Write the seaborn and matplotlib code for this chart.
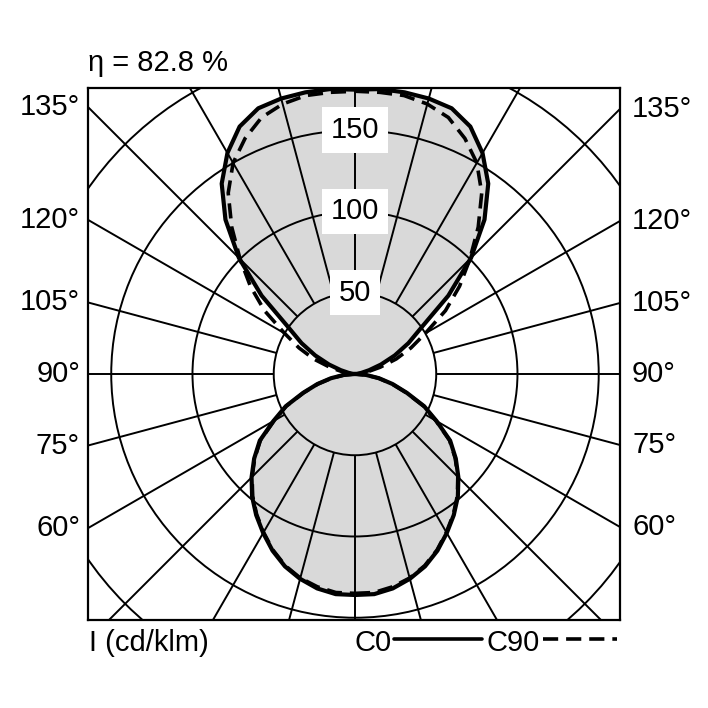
import numpy as np
import pandas as pd
import seaborn as sns
import matplotlib.pyplot as plt
from matplotlib.patches import Circle
from matplotlib.lines import Line2D
from matplotlib.transforms import blended_transform_factory

# =====================================================
# DATA (gamma measured from nadir, cd/klm)
# =====================================================
gamma = list(range(0, 181, 5))

c0 = [136, 136, 134, 130.5, 126, 120, 113, 106, 98.5, 90, 81, 71.5, 58, 47, 34, 24, 15, 7, 0,
      1.5, 4, 9, 17, 27, 38, 50, 75, 101, 124, 143, 157, 168, 174, 175.5, 176, 176, 175]
c90 = [135, 135, 133, 130, 125.5, 119.5, 112.5, 105.5, 98, 89.5, 80.5, 71, 57.5, 46.5, 33.5, 23.5, 14.5, 6.5, 0,
       3, 8, 16, 27, 38, 50, 68, 84, 100, 118, 136, 150, 160, 168, 172, 174, 174, 174]

rings = [50, 100, 150, 200]
ring_labels = ["50", "100", "150"]
angle_labels = [60, 75, 90, 105, 120, 135]
efficiency = "η = 82.8 %"
unit_label = "I (cd/klm)"
legend_names = ["C0", "C90"]

# =====================================================
# STYLE
# =====================================================
sns.set_theme(style="white")
FONT = ["Liberation Sans", "DejaVu Sans"]
plt.rcParams["font.family"] = FONT
plt.rcParams["text.color"] = "black"
FS = 21


def to_xy(values):
    g = np.radians(np.array(gamma, dtype=float))
    r = np.array(values, dtype=float)
    # right half (C0 / C90), then left half back down (C180 / C270)
    x = np.concatenate([r * np.sin(g), -(r * np.sin(g))[::-1]])
    y = np.concatenate([-r * np.cos(g), (-r * np.cos(g))[::-1]])
    return pd.DataFrame({"x": x, "y": y, "order": np.arange(len(x))})


df0 = to_xy(c0)
df90 = to_xy(c90)

fig = plt.figure(figsize=(7.08, 7.08), dpi=100)
ax = fig.add_axes([88 / 708, 88 / 708, 532 / 708, 532 / 708])
XL, XR, YB, YT = -164.3, 163.1, -151.4, 176.0
ax.set_xlim(XL, XR)
ax.set_ylim(YB, YT)

# light grey lobes (C0 outline)
ax.fill(df0["x"], df0["y"], color="#d9d9d9", lw=0, zorder=1)

# polar grid
for r in rings:
    ax.add_patch(Circle((0, 0), r, fill=False, ec="black", lw=1.4, zorder=2))
for a in range(0, 360, 15):
    t = np.radians(a)
    ax.plot([50 * np.sin(t), 400 * np.sin(t)], [-50 * np.cos(t), -400 * np.cos(t)],
            color="black", lw=1.4, zorder=2, solid_capstyle="butt")

# curves
sns.lineplot(data=df90, x="x", y="y", sort=False, estimator=None, ax=ax,
             color="black", lw=2.6, zorder=4)
ax.lines[-1].set_dashes((4.2, 2.2))
sns.lineplot(data=df0, x="x", y="y", sort=False, estimator=None, ax=ax,
             color="black", lw=3.0, zorder=5)

for lab in ring_labels:
    ax.text(0, float(lab), lab, ha="center", va="center", fontsize=FS, zorder=6,
            bbox=dict(boxstyle="square,pad=0.3", fc="white", ec="none"))

ax.set_xticks([])
ax.set_yticks([])
ax.set_xlabel("")
ax.set_ylabel("")
for s in ax.spines.values():
    s.set_visible(True)
    s.set_color("black")
    s.set_linewidth(1.6)

# angle labels along the frame
tr = blended_transform_factory(ax.transAxes, ax.transData)
for a in angle_labels:
    t = np.radians(a)
    ax.text(-8 / 532, XL * np.cos(t) / np.sin(t), f"{a}°", transform=tr,
            ha="right", va="center", fontsize=FS, clip_on=False)
    ax.text(1 + 12 / 532, -XR * np.cos(t) / np.sin(t), f"{a}°", transform=tr,
            ha="left", va="center", fontsize=FS, clip_on=False)

fig.text(88 / 708, 1 - 71 / 708, efficiency, ha="left", va="baseline", fontsize=FS)
fig.text(89 / 708, 1 - 651 / 708, unit_label, ha="left", va="baseline", fontsize=FS)
fig.text(355 / 708, 1 - 651 / 708, legend_names[0], ha="left", va="baseline", fontsize=FS)
fig.text(487 / 708, 1 - 651 / 708, legend_names[1], ha="left", va="baseline", fontsize=FS)
ly = 1 - 639 / 708
fig.add_artist(Line2D([394 / 708, 482 / 708], [ly, ly], color="black", lw=2.6))
fig.add_artist(Line2D([543 / 708, 617 / 708], [ly, ly], color="black", lw=2.6, dashes=(4.2, 2.2)))

fig.savefig("out.png", dpi=100, facecolor="white")
